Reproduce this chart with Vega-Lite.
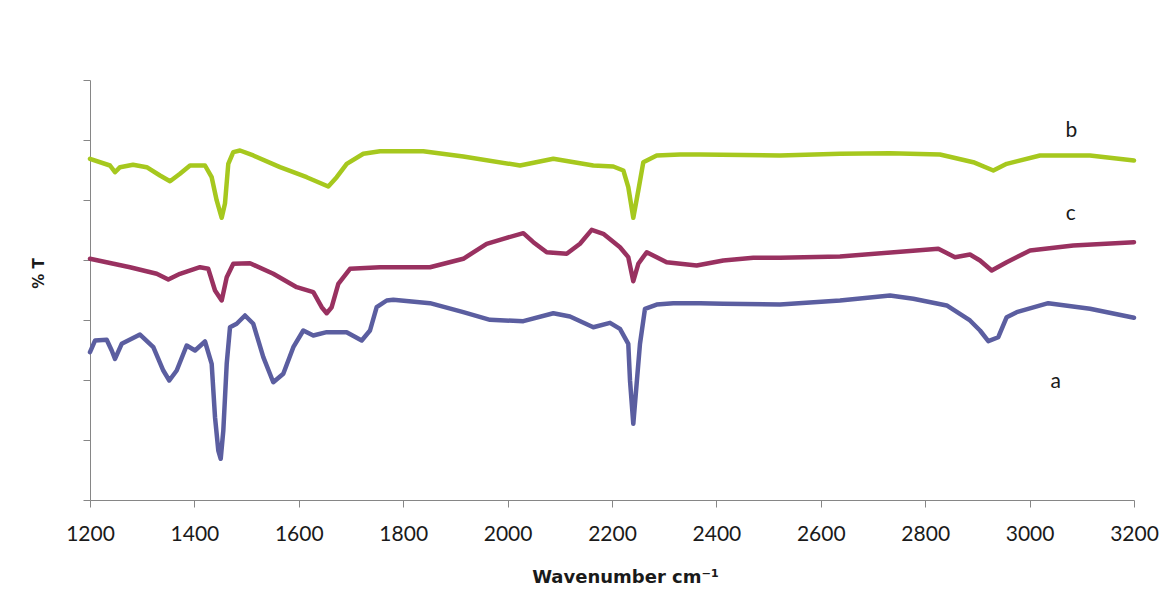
{
  "$schema": "https://vega.github.io/schema/vega-lite/v6.json",
  "width": 1044,
  "height": 420,
  "autosize": {"type": "none"},
  "padding": {"left": 90, "top": 80, "right": 32, "bottom": 110},
  "background": "white",
  "config": {"view": {"stroke": null}},
  "datasets": {
    "spectra": [
      {"s":"b","x":1200,"y":56.87},{"s":"b","x":1238.3,"y":55.75},{"s":"b","x":1247.9,"y":54.63},{"s":"b","x":1257.5,"y":55.47},{"s":"b","x":1282.4,"y":55.87},{"s":"b","x":1308.6,"y":55.47},{"s":"b","x":1334.1,"y":54.08},{"s":"b","x":1353.3,"y":53.13},{"s":"b","x":1372.4,"y":54.37},{"s":"b","x":1391.6,"y":55.75},{"s":"b","x":1420.3,"y":55.75},{"s":"b","x":1433.1,"y":53.8},{"s":"b","x":1442.7,"y":49.92},{"s":"b","x":1452.3,"y":47.03},{"s":"b","x":1458.6,"y":49.42},{"s":"b","x":1464.9,"y":56.03},{"s":"b","x":1474.5,"y":57.97},{"s":"b","x":1487.4,"y":58.25},{"s":"b","x":1512.8,"y":57.42},{"s":"b","x":1564.0,"y":55.47},{"s":"b","x":1615.1,"y":53.8},{"s":"b","x":1656.5,"y":52.25},{"s":"b","x":1672.6,"y":53.8},{"s":"b","x":1691.8,"y":56.03},{"s":"b","x":1723.6,"y":57.7},{"s":"b","x":1755.6,"y":58.13},{"s":"b","x":1838.5,"y":58.13},{"s":"b","x":1915.1,"y":57.25},{"s":"b","x":2023.8,"y":55.75},{"s":"b","x":2087.6,"y":56.87},{"s":"b","x":2164.2,"y":55.75},{"s":"b","x":2202.5,"y":55.58},{"s":"b","x":2221.7,"y":54.92},{"s":"b","x":2231.2,"y":52.13},{"s":"b","x":2240.8,"y":47.03},{"s":"b","x":2250.4,"y":51.58},{"s":"b","x":2260.0,"y":56.3},{"s":"b","x":2285.6,"y":57.42},{"s":"b","x":2330.3,"y":57.58},{"s":"b","x":2368.6,"y":57.58},{"s":"b","x":2521.8,"y":57.42},{"s":"b","x":2636.8,"y":57.7},{"s":"b","x":2732.6,"y":57.8},{"s":"b","x":2828.3,"y":57.58},{"s":"b","x":2892.1,"y":56.3},{"s":"b","x":2930.5,"y":54.92},{"s":"b","x":2956.1,"y":56.03},{"s":"b","x":3019.9,"y":57.42},{"s":"b","x":3115.7,"y":57.42},{"s":"b","x":3200,"y":56.58},
      {"s":"c","x":1200,"y":40.2},{"s":"c","x":1276.6,"y":38.8},{"s":"c","x":1327.8,"y":37.7},{"s":"c","x":1350.0,"y":36.75},{"s":"c","x":1372.4,"y":37.7},{"s":"c","x":1410.7,"y":38.8},{"s":"c","x":1426.6,"y":38.53},{"s":"c","x":1439.5,"y":34.92},{"s":"c","x":1452.3,"y":33.25},{"s":"c","x":1461.9,"y":37.13},{"s":"c","x":1474.5,"y":39.37},{"s":"c","x":1506.5,"y":39.47},{"s":"c","x":1551.1,"y":37.7},{"s":"c","x":1596.0,"y":35.47},{"s":"c","x":1627.8,"y":34.63},{"s":"c","x":1643.9,"y":32.13},{"s":"c","x":1653.4,"y":31.13},{"s":"c","x":1663.0,"y":32.13},{"s":"c","x":1675.7,"y":36.03},{"s":"c","x":1698.1,"y":38.53},{"s":"c","x":1755.6,"y":38.8},{"s":"c","x":1851.3,"y":38.8},{"s":"c","x":1915.1,"y":40.2},{"s":"c","x":1959.9,"y":42.7},{"s":"c","x":1991.8,"y":43.53},{"s":"c","x":2030.1,"y":44.47},{"s":"c","x":2049.3,"y":42.97},{"s":"c","x":2074.9,"y":41.3},{"s":"c","x":2113.2,"y":41.03},{"s":"c","x":2138.7,"y":42.7},{"s":"c","x":2161.1,"y":45.03},{"s":"c","x":2183.3,"y":44.37},{"s":"c","x":2215.3,"y":42.13},{"s":"c","x":2231.2,"y":40.47},{"s":"c","x":2240.8,"y":36.47},{"s":"c","x":2250.4,"y":39.37},{"s":"c","x":2266.5,"y":41.3},{"s":"c","x":2304.6,"y":39.63},{"s":"c","x":2362.2,"y":39.08},{"s":"c","x":2413.2,"y":39.92},{"s":"c","x":2470.7,"y":40.37},{"s":"c","x":2521.8,"y":40.37},{"s":"c","x":2636.8,"y":40.58},{"s":"c","x":2764.6,"y":41.47},{"s":"c","x":2825.1,"y":41.87},{"s":"c","x":2857.1,"y":40.47},{"s":"c","x":2885.8,"y":40.92},{"s":"c","x":2905.0,"y":39.92},{"s":"c","x":2927.4,"y":38.25},{"s":"c","x":2956.1,"y":39.63},{"s":"c","x":3000.8,"y":41.58},{"s":"c","x":3083.7,"y":42.42},{"s":"c","x":3200,"y":42.97},
      {"s":"a","x":1200,"y":24.63},{"s":"a","x":1209.6,"y":26.58},{"s":"a","x":1232.0,"y":26.7},{"s":"a","x":1241.6,"y":24.92},{"s":"a","x":1247.9,"y":23.53},{"s":"a","x":1260.7,"y":26.03},{"s":"a","x":1295.8,"y":27.58},{"s":"a","x":1321.3,"y":25.47},{"s":"a","x":1340.4,"y":21.58},{"s":"a","x":1351.9,"y":19.92},{"s":"a","x":1366.1,"y":21.58},{"s":"a","x":1385.2,"y":25.75},{"s":"a","x":1401.2,"y":24.92},{"s":"a","x":1420.3,"y":26.42},{"s":"a","x":1433.1,"y":22.7},{"s":"a","x":1439.5,"y":13.8},{"s":"a","x":1445.8,"y":8.25},{"s":"a","x":1450.4,"y":6.87},{"s":"a","x":1455.4,"y":11.58},{"s":"a","x":1461.9,"y":22.7},{"s":"a","x":1468.2,"y":28.8},{"s":"a","x":1481.0,"y":29.37},{"s":"a","x":1496.9,"y":30.75},{"s":"a","x":1512.8,"y":29.37},{"s":"a","x":1532.0,"y":23.8},{"s":"a","x":1551.1,"y":19.63},{"s":"a","x":1570.3,"y":21.03},{"s":"a","x":1589.5,"y":25.47},{"s":"a","x":1608.6,"y":28.25},{"s":"a","x":1627.8,"y":27.42},{"s":"a","x":1653.4,"y":27.97},{"s":"a","x":1691.6,"y":27.97},{"s":"a","x":1720.5,"y":26.58},{"s":"a","x":1736.4,"y":28.25},{"s":"a","x":1749.2,"y":32.13},{"s":"a","x":1768.4,"y":33.25},{"s":"a","x":1781.0,"y":33.37},{"s":"a","x":1851.3,"y":32.8},{"s":"a","x":1915.1,"y":31.3},{"s":"a","x":1966.3,"y":30.03},{"s":"a","x":2030.1,"y":29.8},{"s":"a","x":2087.6,"y":31.13},{"s":"a","x":2119.5,"y":30.58},{"s":"a","x":2164.2,"y":28.8},{"s":"a","x":2196.2,"y":29.53},{"s":"a","x":2215.3,"y":28.53},{"s":"a","x":2231.2,"y":26.03},{"s":"a","x":2234.5,"y":19.92},{"s":"a","x":2240.8,"y":12.7},{"s":"a","x":2247.2,"y":19.37},{"s":"a","x":2253.6,"y":26.03},{"s":"a","x":2263.2,"y":31.87},{"s":"a","x":2285.6,"y":32.58},{"s":"a","x":2317.5,"y":32.8},{"s":"a","x":2368.6,"y":32.8},{"s":"a","x":2413.2,"y":32.7},{"s":"a","x":2521.8,"y":32.58},{"s":"a","x":2636.8,"y":33.25},{"s":"a","x":2732.6,"y":34.08},{"s":"a","x":2777.2,"y":33.53},{"s":"a","x":2841.2,"y":32.42},{"s":"a","x":2885.8,"y":29.92},{"s":"a","x":2905.0,"y":28.25},{"s":"a","x":2920.9,"y":26.47},{"s":"a","x":2940.0,"y":27.13},{"s":"a","x":2956.1,"y":30.47},{"s":"a","x":2975.3,"y":31.3},{"s":"a","x":3035.8,"y":32.8},{"s":"a","x":3115.7,"y":31.87},{"s":"a","x":3200,"y":30.37}
    ],
    "labels": [
      {"s":"a","x":3050,"y":18.6},
      {"s":"b","x":3080,"y":60.5},
      {"s":"c","x":3079,"y":46.6}
    ]
  },
  "layer": [
    {
      "data": {"name": "spectra"},
      "mark": {"type": "line", "strokeWidth": 4.5, "strokeJoin": "round", "strokeCap": "round"},
      "encoding": {
        "x": {
          "field": "x", "type": "quantitative",
          "scale": {"domain": [1200, 3200], "nice": false, "zero": false},
          "axis": {
            "values": [1200, 1400, 1600, 1800, 2000, 2200, 2400, 2600, 2800, 3000, 3200],
            "format": "d",
            "grid": false,
            "labelFlush": false,
            "labelOverlap": false,
            "domainColor": "#868686",
            "tickColor": "#868686",
            "tickSize": 7,
            "labelFont": "Lato",
            "labelFontSize": 21,
            "labelColor": "#1a1a1a",
            "labelBaseline": "alphabetic",
            "labelPadding": 33,
            "title": "Wavenumber cm⁻¹",
            "titleFont": "DejaVu Sans",
            "titleFontWeight": "bold",
            "titleFontSize": 18,
            "titleColor": "#1a1a1a",
            "titleX": 535,
            "titleY": 82,
            "titleAlign": "center",
            "titleBaseline": "alphabetic"
          }
        },
        "y": {
          "field": "y", "type": "quantitative",
          "scale": {"domain": [0, 70], "nice": false, "zero": false},
          "axis": {
            "values": [0, 10, 20, 30, 40, 50, 60, 70],
            "labels": false,
            "grid": false,
            "domainColor": "#868686",
            "tickColor": "#868686",
            "tickSize": 7,
            "title": "% T",
            "titleFont": "DejaVu Sans",
            "titleFontWeight": "bold",
            "titleFontSize": 15,
            "titleColor": "#1a1a1a",
            "titleAngle": -90,
            "titleX": -52,
            "titleY": 193,
            "titleAlign": "center",
            "titleBaseline": "middle"
          }
        },
        "color": {
          "field": "s", "type": "nominal",
          "scale": {"domain": ["a", "b", "c"], "range": ["#5B5EA0", "#A6C81E", "#993160"]},
          "legend": null
        },
        "order": {"field": "x", "type": "quantitative"}
      }
    },
    {
      "data": {"name": "labels"},
      "mark": {"type": "text", "font": "Lato", "fontSize": 21, "align": "center", "baseline": "alphabetic", "color": "#1a1a1a"},
      "encoding": {
        "x": {"field": "x", "type": "quantitative"},
        "y": {"field": "y", "type": "quantitative"},
        "text": {"field": "s", "type": "nominal"}
      }
    }
  ]
}
